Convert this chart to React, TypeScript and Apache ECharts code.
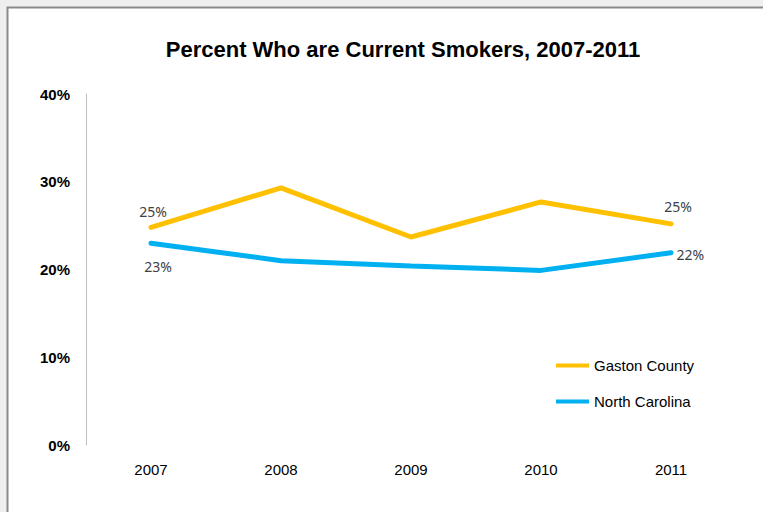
import React, { useEffect, useRef } from "react";
import * as echarts from "echarts";

const years = ["2007", "2008", "2009", "2010", "2011"];
const gastonCounty = [24.8, 29.3, 23.7, 27.7, 25.2];
const northCarolina = [23.0, 21.0, 20.4, 19.9, 21.9];
const yTicks = [0, 10, 20, 30, 40];

const labelFont = { fontFamily: "Noto Sans", fontSize: 14, color: "#404040" };

function withEndLabels(values: number[], first: any, last: any) {
  return values.map((v, i) => {
    if (i === 0) return { value: v, label: { show: true, ...labelFont, ...first } };
    if (i === values.length - 1) return { value: v, label: { show: true, ...labelFont, ...last } };
    return { value: v };
  });
}

export default function App() {
  const ref = useRef<HTMLDivElement>(null);
  useEffect(() => {
    if (!ref.current) return;
    const chart = echarts.init(ref.current, undefined, { renderer: "svg" });
    const fmt = (p: any) => Math.round(p.value) + "%";
    chart.setOption({
      animation: false,
      backgroundColor: "#ffffff",
      graphic: [
        { type: "rect", z: -10, shape: { x: 0, y: 0, width: 763, height: 512 }, style: { fill: "#EFEFEF" }, silent: true },
        { type: "rect", z: -9, shape: { x: 7.5, y: 7.5, width: 780, height: 520 }, style: { fill: "#ffffff", stroke: "#8A8A8A", lineWidth: 2 }, silent: true },
      ],
      title: {
        text: "Percent Who are Current Smokers, 2007-2011",
        left: 398,
        top: 33,
        textAlign: "center",
        textStyle: { fontFamily: "Liberation Sans, Arial", fontWeight: "bold", fontSize: 22, color: "#000" },
      },
      legend: {
        orient: "vertical",
        left: 551,
        top: 353,
        itemGap: 21,
        itemWidth: 33,
        itemHeight: 4,
        icon: "rect",
        textStyle: { fontFamily: "Liberation Sans, Arial", fontSize: 15, color: "#000" },
        data: ["Gaston County", "North Carolina"],
      },
      grid: { left: 86, right: 27, top: 94, bottom: 67, containLabel: false },
      xAxis: {
        type: "category",
        data: years,
        boundaryGap: true,
        axisLine: { show: false },
        axisTick: { show: false },
        axisLabel: { margin: 17, fontFamily: "Liberation Sans, Arial", fontSize: 15, color: "#000" },
        splitLine: { show: false },
      },
      yAxis: {
        type: "value",
        min: yTicks[0],
        max: yTicks[yTicks.length - 1],
        interval: 10,
        axisLine: { show: true, lineStyle: { color: "#BFBFBF", width: 1 } },
        axisTick: { show: false },
        splitLine: { show: false },
        axisLabel: {
          formatter: "{value}%",
          margin: 16,
          fontFamily: "Liberation Sans, Arial",
          fontWeight: "bold",
          fontSize: 15,
          color: "#000",
        },
      },
      series: [
        {
          name: "Gaston County",
          type: "line",
          symbol: "circle",
          symbolSize: 1,
          showSymbol: true,
          color: "#FFC000",
          itemStyle: { color: "#FFC000" },
          lineStyle: { width: 5, color: "#FFC000", cap: "round" },
          label: { show: false, formatter: fmt },
          data: withEndLabels(
            gastonCounty,
            { position: "top", distance: 8, offset: [2, 0], formatter: fmt },
            { position: "top", distance: 10, offset: [7, 0], formatter: fmt }
          ),
        },
        {
          name: "North Carolina",
          type: "line",
          symbol: "circle",
          symbolSize: 1,
          showSymbol: true,
          color: "#00B0F0",
          itemStyle: { color: "#00B0F0" },
          lineStyle: { width: 5, color: "#00B0F0", cap: "round" },
          label: { show: false, formatter: fmt },
          data: withEndLabels(
            northCarolina,
            { position: "bottom", distance: 16, offset: [7, 0], formatter: fmt },
            { position: "right", distance: 5, offset: [0, 2], formatter: fmt }
          ),
        },
      ],
    });
    return () => chart.dispose();
  }, []);
  return (
    <div
      ref={ref}
      style={{ position: "fixed", left: 0, top: 0, width: 763, height: 512 }}
    />
  );
}
